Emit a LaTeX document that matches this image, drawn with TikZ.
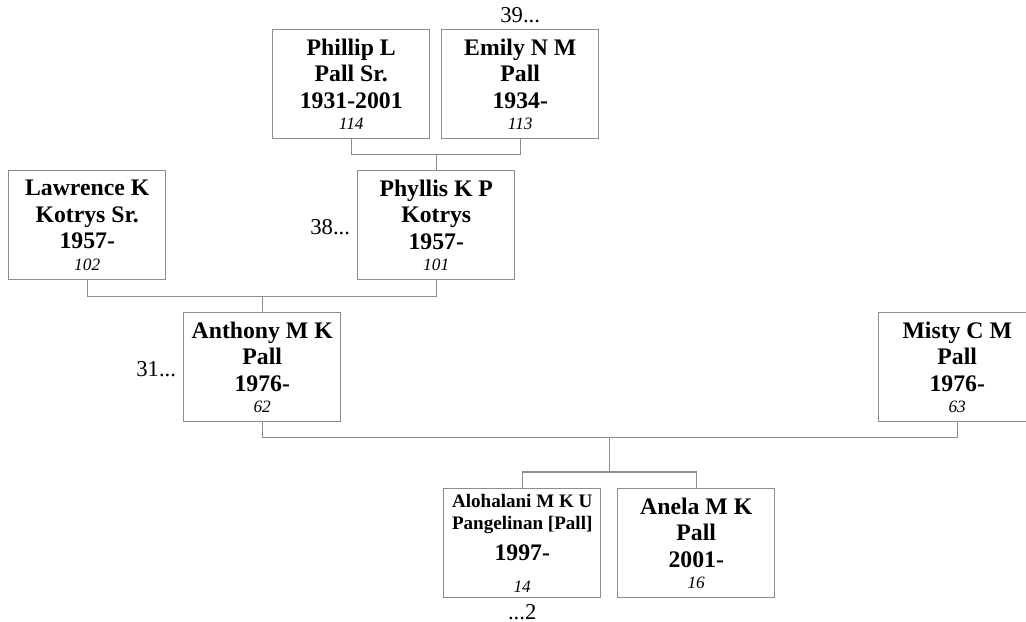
\documentclass[tikz,border=0pt]{standalone}
\usepackage{fontspec}
\setmainfont{Liberation Serif}
\usetikzlibrary{calc,positioning}
\definecolor{boxgray}{RGB}{140,140,140}
\newcommand{\refno}[1]{{\fontsize{13}{15}\selectfont\mdseries\itshape #1}}
\newcommand{\smallname}{\fontsize{14.3}{16.5}\selectfont}

\begin{document}
\begin{tikzpicture}[x=0.75pt,y=-0.75pt,
    person/.style={draw=boxgray,line width=1.1pt,anchor=north west,
      minimum width=117.75pt,minimum height=81.75pt,inner sep=0pt,
      align=center,font=\fontsize{17.8}{20}\selectfont\bfseries},
    link/.style={draw=boxgray,line width=1.1pt},
    more/.style={inner sep=0pt,font=\fontsize{17}{20}\selectfont}]
 \useasboundingbox (0,0) rectangle (1026,622);
 % grandparents
 \node[person] (phillip) at (272,29) {Phillip L\\Pall Sr.\\1931-2001\\[-4pt]\refno{114}};
 \node[person] (emily) at (441,29) {Emily N M\\Pall\\1934-\\[-4pt]\refno{113}};
 % parents
 \node[person] (lawrence) at (8,170) {Lawrence K\\Kotrys Sr.\\1957-\\[-4pt]\refno{102}};
 \node[person] (phyllis) at (357,170) {Phyllis K P\\Kotrys\\1957-\\[-4pt]\refno{101}};
 \node[person] (anthony) at (183,312) {Anthony M K\\Pall\\1976-\\[-4pt]\refno{62}};
 \node[person] (misty) at (878,312) {Misty C M\\Pall\\1976-\\[-4pt]\refno{63}};
 % children
 \node[person] (alohalani) at (443,488)
  {\smallname Alohalani M K U\\[-3pt]\smallname Pangelinan [Pall]\\[3pt]1997-\\[4pt]\refno{14}};
 \node[person] (anela) at (617,488) {Anela M K\\Pall\\2001-\\[-4pt]\refno{16}};
 % more generations
 \node[more,above=4.5pt of emily.north] (up39) {39...};
 \node[more,left=5pt of phyllis,yshift=-1.5pt] (up38) {38...};
 \node[more,left=5pt of anthony,yshift=-1.5pt] (up31) {31...};
 \node[more,below=4pt of alohalani] (down2) {...2};
 % links
 \draw[link] (phillip.south) -- ++(0,15) coordinate (pbar) -| (emily.south);
 \draw[link] (phyllis.north) -- (phyllis.north |- pbar);
 \draw[link] (lawrence.south) -- ++(0,16) coordinate (kbar) -| (phyllis.south);
 \draw[link] (anthony.north) -- (anthony.north |- kbar);
 \draw[link] (anthony.south) -- ++(0,15) coordinate (abar) -| (misty.south);
 \draw[link] (alohalani.north) -- ++(0,-16) coordinate (cbar) -| (anela.north);
 \coordinate (cmid) at ($(alohalani.north)!0.5!(anela.north)$);
 \draw[link] (cmid |- cbar) -- (cmid |- abar);
\end{tikzpicture}
\end{document}
